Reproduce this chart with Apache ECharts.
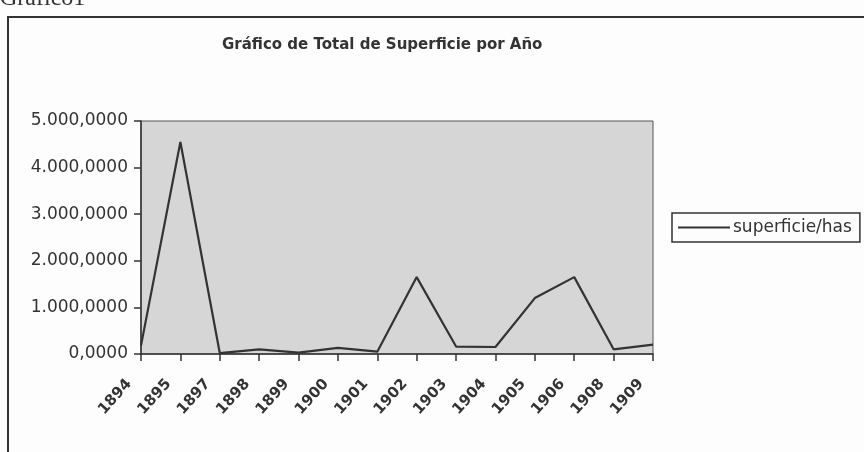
<!DOCTYPE html>
<html>
<head>
    <meta charset="UTF-8">
    <title>Gráfico1</title>
    <script src="https://cdn.jsdelivr.net/npm/echarts@6/dist/echarts.min.js"></script>
    <style type="text/css">
        html, body {
            margin: 0px;
            padding: 0px;
            background: #fdfdfd;
        }
        #chart {
            width: 864px;
            height: 452px;
        }
    </style>
</head>
<body>
    <div id="chart"></div>
    <script>
        // años (eje x) y superficie en hectáreas
        var years = ['1894', '1895', '1897', '1898', '1899', '1900', '1901',
            '1902', '1903', '1904', '1905', '1906', '1908', '1909'];
        var superficie = [180, 4550, 20, 100, 30, 130, 50,
            1650, 160, 150, 1200, 1650, 100, 200];

        // 5000 -> "5.000,0000"
        function fmt(v) {
            var s = String(Math.round(v));
            s = s.replace(/\B(?=(\d{3})+(?!\d))/g, '.');
            return s + ',0000';
        }

        var font = 'DejaVu Sans, Liberation Sans, sans-serif';
        var chart = echarts.init(document.getElementById('chart'), null, { renderer: 'canvas' });
        chart.setOption({
            animation: false,
            backgroundColor: '#fdfdfd',
            title: {
                text: 'Gráfico de Total de Superficie por Año',
                left: 217,
                top: 33,
                textStyle: {
                    fontFamily: font,
                    fontSize: 15,
                    fontWeight: 'bold',
                    color: '#333'
                }
            },
            legend: {
                data: ['superficie/has'],
                left: 672,
                top: 213,
                orient: 'vertical',
                icon: 'rect',
                itemWidth: 52,
                itemHeight: 2,
                padding: [6, 8, 6, 6],
                borderColor: '#333',
                borderWidth: 1.5,
                borderRadius: 0,
                textStyle: {
                    fontFamily: font,
                    fontSize: 17,
                    color: '#333',
                    padding: [0, 0, 0, -2]
                }
            },
            grid: {
                left: 141,
                right: 211,
                top: 121,
                bottom: 98,
                show: true,
                backgroundColor: '#d6d6d6',
                borderColor: '#555',
                borderWidth: 1
            },
            xAxis: {
                type: 'category',
                data: years,
                boundaryGap: false,
                axisLine: { lineStyle: { color: '#333', width: 1.5 } },
                axisTick: { alignWithLabel: true, length: 7, lineStyle: { color: '#333', width: 1.5 } },
                axisLabel: {
                    rotate: 48,
                    interval: 0,
                    margin: 3,
                    verticalAlign: 'top',
                    padding: [0, 26, 0, 0],
                    fontFamily: font,
                    fontSize: 15,
                    fontWeight: 'bold',
                    color: '#333'
                }
            },
            yAxis: {
                type: 'value',
                min: 0,
                max: 5000,
                interval: 1000,
                splitLine: { show: false },
                axisLine: { show: true, lineStyle: { color: '#333', width: 1.5 } },
                axisTick: { show: true, length: 7, lineStyle: { color: '#333', width: 1.5 } },
                axisLabel: {
                    formatter: fmt,
                    margin: 13,
                    fontFamily: font,
                    fontSize: 17,
                    color: '#333'
                }
            },
            series: [{
                name: 'superficie/has',
                type: 'line',
                data: superficie,
                symbol: 'none',
                lineStyle: { color: '#333', width: 2.2 },
                itemStyle: { color: '#333' }
            }],
            graphic: [
                {
                    type: 'rect',
                    shape: { x: 8, y: 17, width: 880, height: 460 },
                    style: { fill: null, stroke: '#333', lineWidth: 2 },
                    silent: true
                },
                {
                    type: 'text',
                    left: 0,
                    top: -13,
                    style: {
                        text: 'Gráfico1',
                        font: '24px "Liberation Serif", "Times New Roman", serif',
                        fill: '#333'
                    }
                }
            ]
        });
    </script>
</body>
</html>
